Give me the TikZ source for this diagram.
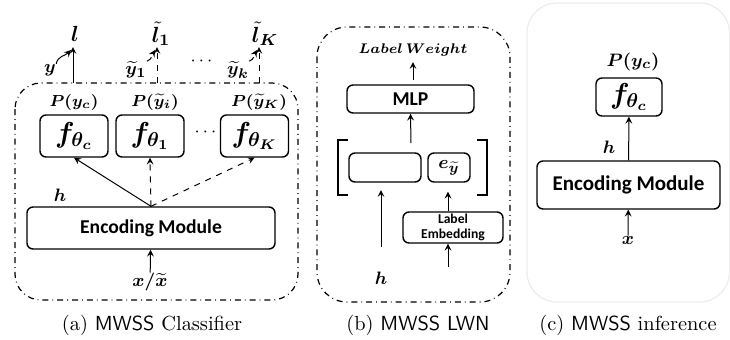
\documentclass[tikz,border=0pt]{standalone}
\usepackage{fontspec}
\usepackage{amsmath}
\usepackage{bm}
\newfontfamily\calibri{Carlito}
\usetikzlibrary{positioning, arrows, calc}
\tikzset{
	>=stealth, % small filled arrow heads
	frame/.style={dash dot, line width=0.6pt, rounded corners=13pt},
	box/.style={draw, line width=0.7pt, rounded corners=3pt, inner sep=0pt},
	fbox/.style={box, minimum width=34pt, minimum height=21pt, font=\fontsize{14}{15}\selectfont},
	encbox/.style={box, font=\calibri\bfseries\fontsize{9.8}{11}\selectfont},
	lab/.style={inner sep=0pt, font=\fontsize{9.5}{10}\selectfont},
	arr/.style={->, line width=0.5pt},
	darr/.style={arr, dashed},
	caption/.style={font=\fontsize{10.2}{12}\selectfont},
}

\begin{document}
\begin{tikzpicture}[x=0.5pt, y=-0.5pt]
	\useasboundingbox (0,0) rectangle (730,339);
	% (a) classifier
	\draw[frame] (15,83) rectangle (298,300);
	\node[fbox] (fc) at (74,136) {$\bm{f_{\theta_c}}$};
	\node[fbox] (f1) at (150,136) {$\bm{f_{\theta_1}}$};
	\node[fbox] (fK) at (254.5,136) {$\bm{f_{\theta_K}}$};
	\node[lab] (dotsf) at (207,132) {$\cdots$};
	\node[lab, font=\fontsize{8.5}{10}\selectfont] (pc) at (74,102) {$\bm{P(y_c)}$};
	\node[lab, font=\fontsize{8.5}{10}\selectfont] (pi) at (155,102) {$\bm{P(\widetilde{y}_i)}$};
	\node[lab, font=\fontsize{8.5}{10}\selectfont] (pK) at (259,102) {$\bm{P(\widetilde{y}_K)}$};
	\node[encbox, minimum width=124pt, minimum height=21pt] (enc) at (151,228) {Encoding Module};
	\node[lab] (h) at (60,195) {$\bm{h}$};
	\node[lab] (xin) at (150,282) {$\bm{x/\widetilde{x}}$};
	\draw[arr] (enc.north) -- (fc.south);
	\draw[darr] (enc.north) -- (f1.south);
	\draw[darr] (enc.north) -- (fK.south);
	\draw[arr] (xin) -- (enc);
	% losses on top
	\node[lab, font=\fontsize{11}{12}\selectfont] (l) at (75,34) {$\bm{l}$};
	\node[lab, font=\fontsize{11}{12}\selectfont] (l1) at (161,34) {$\bm{\tilde{l}_1}$};
	\node[lab, font=\fontsize{11}{12}\selectfont] (lK) at (265,34) {$\bm{\tilde{l}_K}$};
	\coordinate (sa) at (73,83);
	\coordinate (s1) at (157,83);
	\coordinate (sK) at (259,83);
	\coordinate (ta) at (73,47);
	\coordinate (t1) at (157,47);
	\coordinate (tK) at (259,47);
	\draw[arr] (sa) -- (ta);
	\draw[darr] (s1) -- (t1);
	\draw[darr] (sK) -- (tK);
	\node[lab] (y) at (50,70) {$\bm{y}$};
	\node[lab] (y1) at (136,70) {$\bm{\widetilde{y}_1}$};
	\node[lab] (yk) at (238,70) {$\bm{\widetilde{y}_k}$};
	\node[lab] (dotsl) at (203,61) {$\cdots$};
	\draw[arr] (y.north east) to[out=80, in=225] ($(ta)+(-2,3)$);
	\draw[darr] (y1.north east) to[out=20, in=240] ($(t1)+(-2,3)$);
	\draw[darr] (yk.north east) to[out=20, in=240] ($(tK)+(-2,3)$);
	\node[caption] (capa) at (152,325) {(a) \textsf{MWSS} Classifier};
	% (b) label weighting network
	\draw[frame, rounded corners=15pt] (317,27) rectangle (510,302);
	\node[lab, font=\fontsize{7}{8}\selectfont] (lw) at (413,50) {$\bm{Label}\,\bm{Weight}$};
	\node[encbox, minimum width=63.5pt, minimum height=14pt] (mlp) at (410.5,99) {MLP};
	\node[box, minimum width=36pt, minimum height=14.5pt] (hbox) at (385,167.5) {};
	\node[box, minimum width=21pt, minimum height=14.5pt, font=\fontsize{9.5}{10}\selectfont] (ebox) at (449,167.5) {$\bm{e_{\widetilde{y}}}$};
	\node[encbox, minimum width=50pt, minimum height=15.5pt, align=center, font=\calibri\bfseries\fontsize{6.8}{7.6}\selectfont] (le) at (453,227.5) {Label\\Embedding};
	\node[lab] (hb) at (381,278) {$\bm{h}$};
	\draw[line width=0.7pt] (348,140) -- (338,140) -- (338,195) -- (348,195);
	\draw[line width=0.7pt] (477,140) -- (487,140) -- (487,195) -- (477,195);
	\coordinate (cat) at (411,143);
	\coordinate (mo) at (413,80);
	\coordinate (lwb) at (413,62);
	\coordinate (hs) at (381,247);
	\coordinate (ht) at (381,190);
	\coordinate (es) at (448,267);
	\draw[arr] (mo) -- (lwb);
	\draw[arr] (cat) -- (mlp.south);
	\draw[arr] (hs) -- (ht);
	\draw[arr] (le.north -| es) -- ($(ebox.south -| es)+(0,9)$);
	\draw[arr] (es) -- (le.south -| es);
	\node[caption] (capb) at (418,325) {(b) \textsf{MWSS LWN}};
	% (c) inference
	\draw[gray!15, line width=0.6pt, rounded corners=15pt] (527,3) rectangle (729.5,302);
	\node[lab, font=\fontsize{9.5}{10}\selectfont] (pc2) at (633,62) {$\bm{P(y_c)}$};
	\node[fbox, minimum width=33pt, minimum height=19pt] (fc2) at (629,97) {$\bm{f_{\theta_c}}$};
	\node[encbox, minimum width=91.5pt, minimum height=24pt, font=\calibri\bfseries\fontsize{10.5}{12}\selectfont] (enc2) at (628.5,185) {Encoding Module};
	\node[lab] (h2) at (609,147) {$\bm{h}$};
	\node[lab] (x2) at (628,240) {$\bm{x}$};
	\draw[arr] (enc2) -- (fc2);
	\draw[arr] (x2) -- (enc2);
	\node[caption] (capc) at (628,325) {(c) \textsf{MWSS} inference};
\end{tikzpicture}
\end{document}
